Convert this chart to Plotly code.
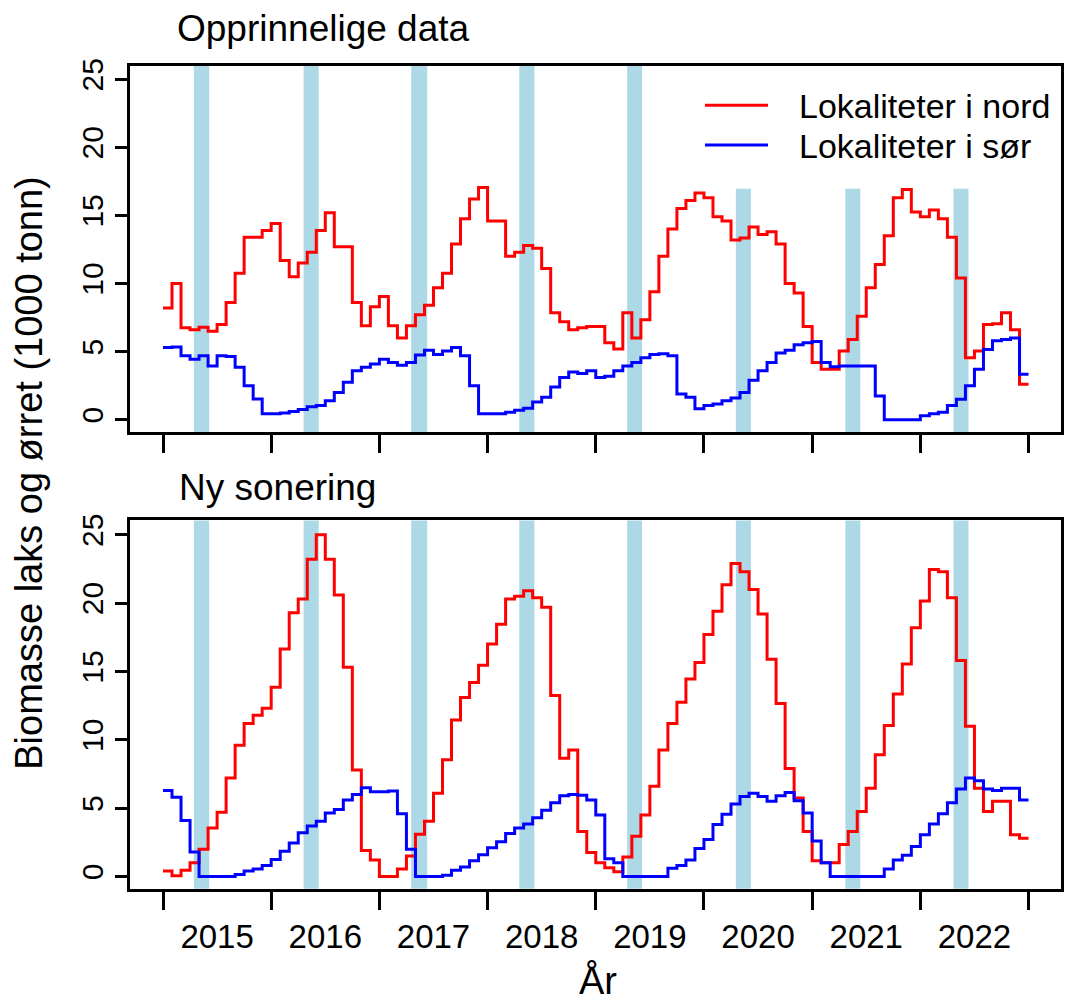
import plotly.graph_objects as go

# ---------------- data (monthly values, Jan 2015 .. Dec 2022, 1000 tonn) ----------------
years = [2015, 2016, 2017, 2018, 2019, 2020, 2021, 2022]
year_labels = ["2015", "2016", "2017", "2018", "2019", "2020", "2021", "2022"]

# Opprinnelige data - Lokaliteter i nord
orig_nord = [
    8.2, 10.0, 6.75, 6.6, 6.8, 6.5, 7.0, 8.6, 10.75, 13.4, 13.4, 13.9,      # 2015
    14.4, 11.7, 10.5, 11.5, 12.3, 13.9, 15.2, 12.7, 12.7, 8.6, 6.9, 8.3,    # 2016
    9.05, 6.9, 6.0, 6.9, 7.7, 8.4, 9.7, 10.75, 12.9, 14.75, 16.2, 17.05,    # 2017
    14.6, 14.6, 12.0, 12.3, 12.8, 12.6, 11.1, 7.85, 7.2, 6.6, 6.75, 6.85,   # 2018
    6.85, 5.65, 5.2, 7.85, 6.0, 7.35, 9.4, 12.0, 14.0, 15.5, 16.1, 16.65,   # 2019
    16.3, 14.9, 14.6, 13.2, 13.35, 14.15, 13.6, 13.8, 12.9, 10.0, 9.3, 6.85,# 2020
    4.2, 3.7, 3.7, 5.05, 5.9, 7.6, 9.7, 11.4, 13.5, 16.3, 16.9, 15.25,      # 2021
    14.9, 15.4, 14.75, 13.4, 10.4, 4.55, 5.05, 7.0, 7.05, 7.85, 6.6, 2.6,   # 2022
]
# Opprinnelige data - Lokaliteter i sør
orig_sor = [
    5.3, 5.35, 4.7, 4.45, 4.7, 3.95, 4.7, 4.65, 3.85, 2.5, 1.53, 0.44,      # 2015
    0.45, 0.5, 0.6, 0.75, 0.95, 1.05, 1.4, 2.0, 2.75, 3.6, 3.85, 4.1,       # 2016
    4.45, 4.2, 4.0, 4.2, 4.75, 5.1, 4.8, 5.05, 5.3, 4.7, 2.5, 0.44,         # 2017
    0.44, 0.44, 0.55, 0.7, 0.85, 1.3, 1.65, 2.4, 3.1, 3.5, 3.4, 3.6,        # 2018
    3.1, 3.2, 3.6, 3.95, 4.2, 4.55, 4.8, 4.85, 4.7, 1.9, 1.65, 0.8,         # 2019
    1.05, 1.15, 1.4, 1.6, 2.0, 2.9, 3.6, 4.2, 4.9, 5.1, 5.5, 5.65,          # 2020
    5.75, 4.2, 3.9, 3.95, 3.95, 3.95, 3.95, 1.75, 0.0, 0.0, 0.0, 0.0,       # 2021
    0.3, 0.45, 0.55, 1.05, 1.5, 2.5, 3.7, 5.15, 5.8, 5.9, 6.0, 3.35,        # 2022
]
# Ny sonering - Lokaliteter i nord
ny_nord = [
    0.4, 0.05, 0.45, 1.0, 2.0, 3.55, 4.7, 7.2, 9.6, 11.2, 11.8, 12.3,       # 2015
    13.85, 16.65, 19.3, 20.3, 23.2, 25.0, 23.2, 20.6, 15.3, 7.8, 1.9, 1.2,  # 2016
    0.0, 0.0, 0.55, 1.5, 3.1, 4.05, 6.1, 8.55, 11.45, 13.1, 14.2, 15.45,    # 2017
    17.0, 18.45, 20.3, 20.5, 20.9, 20.4, 19.7, 13.25, 8.65, 9.25, 3.3, 1.75,# 2018
    1.0, 0.65, 0.35, 1.43, 2.95, 4.5, 6.6, 9.25, 11.2, 12.75, 14.45, 15.65, # 2019
    17.7, 19.4, 21.35, 22.9, 22.3, 21.0, 19.2, 15.9, 12.65, 7.9, 5.75, 3.3, # 2020
    1.15, 1.0, 1.0, 2.35, 3.3, 4.75, 6.45, 8.9, 11.05, 13.35, 15.55, 18.2,  # 2021
    20.15, 22.45, 22.3, 20.4, 15.8, 11.0, 6.45, 4.75, 5.5, 5.5, 3.05, 2.8,  # 2022
]
# Ny sonering - Lokaliteter i sør
ny_sor = [
    6.3, 5.8, 4.1, 1.8, 0.0, 0.0, 0.0, 0.0, 0.15, 0.4, 0.55, 0.8,           # 2015
    1.25, 1.85, 2.45, 3.2, 3.7, 4.05, 4.65, 4.9, 5.6, 6.0, 6.5, 6.2,        # 2016
    6.2, 6.25, 4.6, 2.0, 0.0, 0.0, 0.0, 0.1, 0.45, 0.7, 1.15, 1.6,          # 2017
    2.1, 2.55, 3.15, 3.55, 3.85, 4.3, 4.85, 5.4, 5.9, 6.0, 5.95, 5.6,       # 2018
    4.5, 1.3, 1.0, 0.0, 0.0, 0.0, 0.0, 0.0, 0.6, 0.8, 1.2, 2.05,            # 2019
    2.7, 3.8, 4.55, 5.3, 5.85, 6.1, 5.85, 5.5, 5.9, 6.15, 5.55, 4.65,       # 2020
    2.6, 1.0, 0.0, 0.0, 0.0, 0.0, 0.0, 0.0, 0.55, 1.2, 1.55, 2.2,           # 2021
    3.05, 3.85, 4.6, 5.4, 6.4, 7.2, 7.0, 6.4, 6.3, 6.45, 6.45, 5.6,         # 2022
]

# shaded periods (decimal year)
shade_start = [2015.285, 2016.300, 2017.294, 2018.293, 2019.290, 2020.295, 2021.307, 2022.306]
shade_end = [2015.427, 2016.439, 2017.442, 2018.432, 2019.428, 2020.434, 2021.445, 2022.445]

series_names = ["Lokaliteter i nord", "Lokaliteter i sør"]
panel_titles = ["Opprinnelige data", "Ny sonering"]
y_ticks = [0, 5, 10, 15, 20, 25]

# ---------------- helpers ----------------
W, H = 1065, 1006
FONT = "Liberation Sans, Arial, Helvetica, sans-serif"
RED, BLUE, LIGHTBLUE = "#FF0000", "#0000FF", "#ADD8E6"

def px_x(p):
    return p / W

def px_y(p):
    return 1 - p / H

t = [y + m / 12 for y in years for m in range(12)] + [years[-1] + 1]

def ext(v):
    return list(v) + [v[-1]]

PLOT_L, PLOT_R = 130, 1061
TOP_T, TOP_B = 59, 428
BOT_T, BOT_B = 517, 888

fig = go.Figure()
for xa, ya, nord, sor in [("x", "y", orig_nord, orig_sor), ("x2", "y2", ny_nord, ny_sor)]:
    fig.add_trace(go.Scatter(x=t, y=ext(nord), mode="lines", line=dict(color=RED, width=3, shape="hv"),
                             xaxis=xa, yaxis=ya, name=series_names[0], showlegend=False))
    fig.add_trace(go.Scatter(x=t, y=ext(sor), mode="lines", line=dict(color=BLUE, width=3, shape="hv"),
                             xaxis=xa, yaxis=ya, name=series_names[1], showlegend=False))

shapes = []
for xr, yr in [("x", "y domain"), ("x2", "y2 domain")]:
    for s, e in zip(shade_start, shade_end):
        shapes.append(dict(type="rect", xref=xr, yref=yr, x0=s, x1=e, y0=0, y1=1,
                           fillcolor=LIGHTBLUE, line=dict(width=0), layer="below"))
# white legend background in top panel
shapes.append(dict(type="rect", xref="paper", yref="y domain",
                   x0=px_x(690), x1=px_x(PLOT_R), y0=(TOP_B - 183) / (TOP_B - TOP_T), y1=1,
                   fillcolor="white", line=dict(width=0), layer="below"))
# legend line samples
for yy, col in [(99, RED), (139, BLUE)]:
    shapes.append(dict(type="line", xref="paper", yref="paper", x0=px_x(705), x1=px_x(768),
                       y0=px_y(yy), y1=px_y(yy), line=dict(color=col, width=3)))

annotations = [
    dict(text=panel_titles[0], x=px_x(175), y=px_y(22), xref="paper", yref="paper",
         xanchor="left", yanchor="middle", showarrow=False, font=dict(size=37, color="black", family=FONT)),
    dict(text=panel_titles[1], x=px_x(177), y=px_y(484), xref="paper", yref="paper",
         xanchor="left", yanchor="middle", showarrow=False, font=dict(size=37, color="black", family=FONT)),
    dict(text="Biomasse laks og ørret (1000 tonn)", x=px_x(29), y=px_y(469), xref="paper", yref="paper",
         xanchor="center", yanchor="middle", textangle=-90, showarrow=False,
         font=dict(size=38, color="black", family=FONT)),
    dict(text="År", x=px_x(598), y=px_y(980), xref="paper", yref="paper",
         xanchor="center", yanchor="middle", showarrow=False, font=dict(size=38, color="black", family=FONT)),
    dict(text=series_names[0], x=px_x(797), y=px_y(100), xref="paper", yref="paper",
         xanchor="left", yanchor="middle", showarrow=False, font=dict(size=34, color="black", family=FONT)),
    dict(text=series_names[1], x=px_x(797), y=px_y(140), xref="paper", yref="paper",
         xanchor="left", yanchor="middle", showarrow=False, font=dict(size=34, color="black", family=FONT)),
]

year_ticks = years + [years[-1] + 1]
label_pos = [y + 0.5 for y in years]
xrange_ = [2014.695, 2023.30]

common_x = dict(range=xrange_, domain=[px_x(PLOT_L), px_x(PLOT_R)], showgrid=False, zeroline=False,
                showline=True, linewidth=3, linecolor="black", mirror=True)
common_y = dict(tickmode="array", tickvals=y_ticks, ticktext=[str(v) for v in y_ticks], tickangle=-90,
                ticks="outside", ticklen=12, tickwidth=3, tickcolor="black",
                tickfont=dict(size=30, color="black", family=FONT),
                showgrid=False, zeroline=False, showline=True, linewidth=3, linecolor="black", mirror=True)

fig.update_layout(
    width=W, height=H, margin=dict(l=0, r=0, t=0, b=0),
    paper_bgcolor="white", plot_bgcolor="white", showlegend=False,
    font=dict(family=FONT, color="black"),
    xaxis=dict(**common_x, anchor="y", tickmode="array", tickvals=year_ticks,
               ticks="outside", ticklen=18, tickwidth=3, tickcolor="black", showticklabels=False),
    yaxis=dict(**common_y, anchor="x", range=[-0.9, 26.0], domain=[px_y(TOP_B), px_y(TOP_T)]),
    xaxis2=dict(**common_x, anchor="y2", tickmode="array", tickvals=label_pos, ticktext=year_labels,
                ticks="outside", ticklen=17, tickwidth=1, tickcolor="rgba(0,0,0,0)",
                tickfont=dict(size=33, color="black", family=FONT),
                minor=dict(tickmode="array", tickvals=year_ticks, ticks="outside", ticklen=18,
                           tickwidth=3, tickcolor="black", showgrid=False)),
    yaxis2=dict(**common_y, anchor="x2", range=[-0.9, 26.05], domain=[px_y(BOT_B), px_y(BOT_T)]),
    shapes=shapes, annotations=annotations,
)

fig.write_html(
    "out.html",
    config={"displayModeBar": False, "staticPlot": True},
    post_script="document.body.style.margin='0';document.body.style.overflow='hidden';",
)
